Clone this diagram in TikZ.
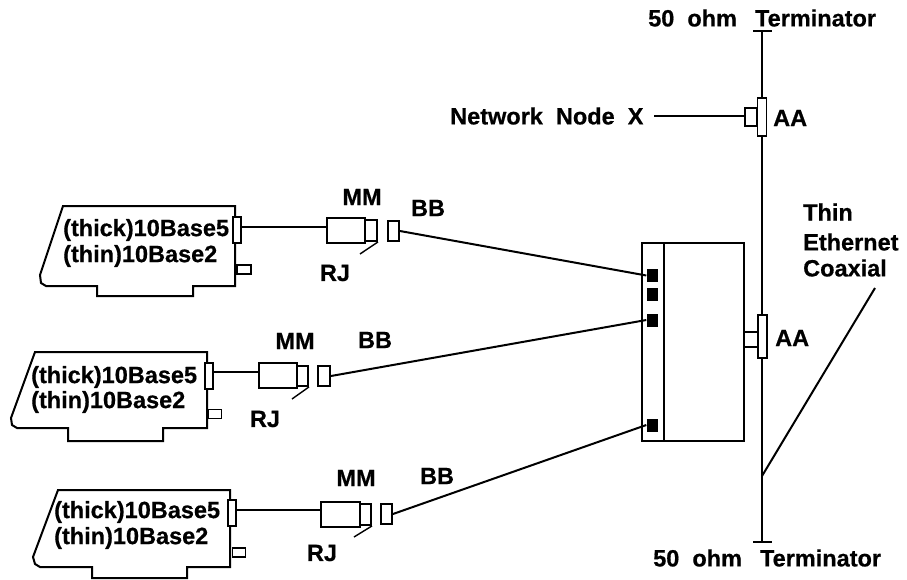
\documentclass[tikz,border=0pt]{standalone}
\usepackage{fontspec}
\setmainfont{Liberation Sans}[BoldFeatures={FakeBold=0.6}]
\usepackage{tikz}
\usetikzlibrary{positioning,calc}

\begin{document}
\begin{tikzpicture}[x=1pt, y=-1pt, font=\fontsize{23.5}{25}\selectfont\bfseries,
  wire/.style={line width=2pt},
  lbl/.style={inner sep=0pt},
  lblw/.style={lbl, anchor=west},
  part/.style={draw, fill=white, line width=1.9pt, inner sep=0pt, minimum width=#1},
  port/.style={fill=black, inner sep=0pt, minimum width=11pt, minimum height=13pt}]
\useasboundingbox (0,0) rectangle (907,579);

% coaxial trunk
\coordinate (topcap) at (762,31);
\coordinate (botcap) at (762,542);
\coordinate (tap) at (762,476);
\coordinate (coaxend) at (875,288);
\draw[wire] (topcap) -- (botcap);
\draw[wire] ($(topcap)+(-9,0)$) -- ($(topcap)+(10,0)$);
\draw[wire] ($(botcap)+(-9,0)$) -- ($(botcap)+(10,0)$);
\draw[wire] (tap) -- (coaxend);
\node[lbl, anchor=west] (ttop) at (648,18) {50\ \ ohm\ \ \hspace{5pt}Terminator};
\node[lbl, anchor=west] (tbot) at (653,558) {50\ \ ohm\ \ \hspace{5pt}Terminator};
\node[lblw] (thin) at (803,212) {Thin};
\node[lblw] (ether) at (803,242) {Ethernet};
\node[lblw] (coax) at (803,268) {Coaxial};

% node X tap
\node[lblw] (nodex) at (450,116) {Network\ \ Node\ \ X};
\node[part=12pt, minimum height=18pt] (stubx) at (751,117) {};
\node[part=9pt, minimum height=38pt] (aax) at (762,117) {};
\node[lblw] (aaxl) at (773,118) {AA};
\coordinate (xend) at (654,116);
\draw[wire] (xend) -- (stubx.west |- xend);

% hub
\node[draw, line width=2pt, minimum width=102pt, minimum height=198pt, inner sep=0pt] (hub) at (693,342) {};
\draw[wire] (664,243) -- (664,441);
\node[port] (p1) at (652,275.5) {};
\node[port] (p2) at (652,294) {};
\node[port] (p3) at (652,320) {};
\node[port] (p4) at (652,425) {};
\node[part=14pt, minimum height=15pt] (stubh) at (751,339.5) {};
\node[part=9pt, minimum height=43pt] (aah) at (762.5,336.5) {};
\node[lblw] (aahl) at (775,338) {AA};

% upper card
\draw[wire] (63,206) -- (235,206) -- (235,286) -- (193,286) -- (193,296) -- (97,296) -- (97,286) -- (46,286) -- (41,283) -- (40,275) -- cycle;
\node[lblw] (c1a) at (63,230) {(thick)10Base5};
\node[lblw] (c1b) at (63,256) {(thin)10Base2};
\node[part=8pt, minimum height=26pt] (c1con) at (237,230) {};
\node[part=14pt, minimum height=9pt] (c1tab) at (244,269.5) {};
\node[part=38pt, minimum height=25pt] (c1mm) at (346,230.5) {};
\node[part=12pt, minimum height=21pt] (c1rj) at (371,230.5) {};
\node[part=11pt, minimum height=20pt] (c1bb) at (393.5,231) {};
\coordinate (c1tick) at (360,254);
\draw[wire] (c1con.east |- 0,227) -- (c1mm.west |- 0,227);
\draw[wire, line width=1.4pt] (c1rj.south east) -- (c1tick);
\draw[wire] (c1bb.east) -- (p1.west);
\node[lbl] (c1mml) at (362,197) {MM};
\node[lbl] (c1rjl) at (335,273) {RJ};
\node[lbl] (c1bbl) at (428,208) {BB};

% middle card
\draw[wire] (35,352) -- (207,352) -- (207,428) -- (163,428) -- (163,441) -- (68,441) -- (68,428) -- (17,428) -- (12,425) -- (11,418) -- cycle;
\node[lblw] (c2a) at (31,377) {(thick)10Base5};
\node[lblw] (c2b) at (31,402) {(thin)10Base2};
\node[part=8pt, minimum height=26pt] (c2con) at (209,376) {};
\node[part=13pt, minimum height=9pt] (c2tab) at (215,414) {};
\node[part=38pt, minimum height=25pt] (c2mm) at (278,375.5) {};
\node[part=11pt, minimum height=20pt] (c2rj) at (302.5,376) {};
\node[part=12pt, minimum height=20pt] (c2bb) at (324,376) {};
\coordinate (c2tick) at (292,399);
\draw[wire] (c2con.east |- 0,372) -- (c2mm.west |- 0,372);
\draw[wire, line width=1.4pt] (c2rj.south east) -- (c2tick);
\draw[wire] (c2bb.east) -- (p3.west);
\node[lbl] (c2mml) at (295,341) {MM};
\node[lbl] (c2rjl) at (265,419) {RJ};
\node[lbl] (c2bbl) at (375,340) {BB};

% lower card
\draw[wire] (58,490) -- (230,490) -- (230,567) -- (187,567) -- (187,578) -- (92,578) -- (92,567) -- (40,567) -- (35,564) -- (33,557) -- cycle;
\node[lblw] (c3a) at (54,512) {(thick)10Base5};
\node[lblw] (c3b) at (54,538) {(thin)10Base2};
\node[part=8pt, minimum height=26pt] (c3con) at (232,513) {};
\node[part=13pt, minimum height=9pt] (c3tab) at (239,552.5) {};
\node[part=39pt, minimum height=25pt] (c3mm) at (340.5,514.5) {};
\node[part=11pt, minimum height=21pt] (c3rj) at (365.5,514.5) {};
\node[part=11pt, minimum height=20pt] (c3bb) at (386.5,514) {};
\coordinate (c3tick) at (354,537);
\draw[wire] (c3con.east |- 0,510) -- (c3mm.west |- 0,510);
\draw[wire, line width=1.4pt] (c3rj.south east) -- (c3tick);
\draw[wire] (c3bb.east) -- (p4.west);
\node[lbl] (c3mml) at (356,478) {MM};
\node[lbl] (c3rjl) at (322,553) {RJ};
\node[lbl] (c3bbl) at (437,476) {BB};
\end{tikzpicture}
\end{document}
